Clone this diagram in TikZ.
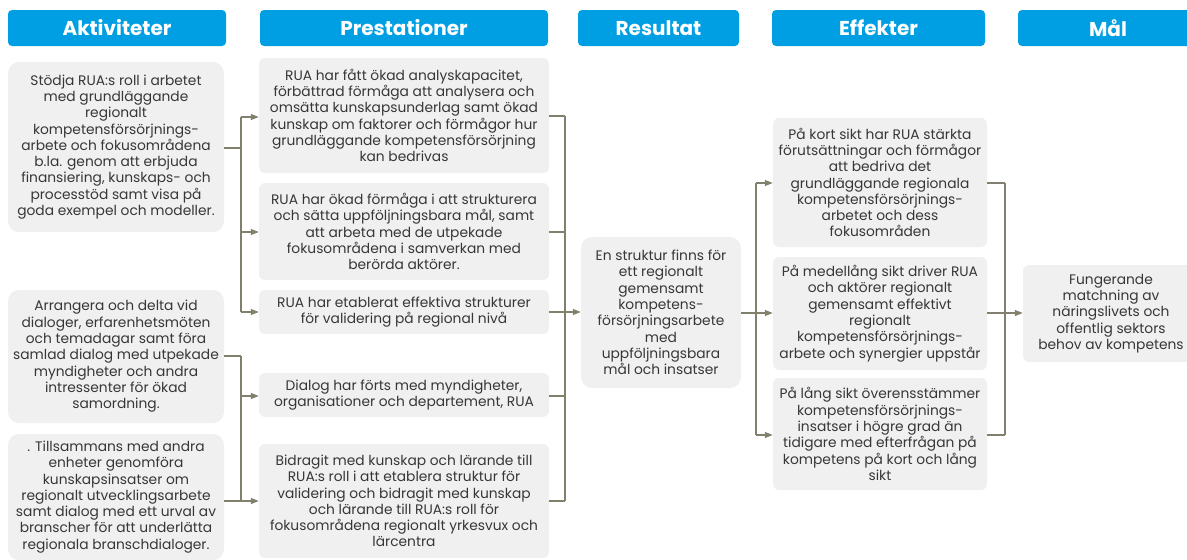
\documentclass[tikz,border=0pt]{standalone}
\usepackage{fontspec}
\setmainfont{Poppins}
\usetikzlibrary{arrows.meta}
\definecolor{hdrblue}{RGB}{0,159,227}
\definecolor{boxgray}{RGB}{240,240,240}
\definecolor{lineol}{RGB}{128,128,108}
\definecolor{txtgray}{RGB}{55,55,55}
\newcommand{\mybox}[7][]{\node[boxst,#1,minimum width={#5-#3},minimum height={#6-#4}] (#2) at ({(#3+#5)/2},{(#4+#6)/2}) {#7};}
\newcommand{\myhdr}[6]{\node[hdrst,minimum width={#4-#2},minimum height={#5-#3}] (#1) at ({(#2+#4)/2},{(#3+#5)/2}) {#6};}
\begin{document}
\begin{tikzpicture}[x=1pt,y=-1pt,
  boxst/.style={fill=boxgray,draw=none,rounded corners=6pt,inner sep=0pt,align=center,text=txtgray,font=\fontsize{13.8}{16.3}\selectfont},
  rc/.style={rounded corners=11pt},
  hdrst/.style={fill=hdrblue,draw=none,rounded corners=4pt,inner sep=0pt,text=white,font=\fontsize{20}{22}\selectfont\bfseries},
  conn/.style={draw=lineol,line width=1.2pt},
  arr/.style={conn,-{Triangle[length=8pt,width=6pt]}}]
\useasboundingbox (0,0) rectangle (1187,560);
% headers
\myhdr{hA}{8}{10}{226}{46}{Aktiviteter}
\myhdr{hP}{260}{10}{548}{46}{Prestationer}
\myhdr{hR}{578}{10}{739}{46}{Resultat}
\myhdr{hE}{772}{10}{985}{46}{Effekter}
\myhdr{hM}{1018}{10}{1198}{46}{Mål}
% activities
\mybox[rc]{A1}{8}{62}{224}{232}{Stödja RUA:s roll i arbetet\\med grundläggande\\regionalt\\kompetensförsörjnings-\\arbete och fokusområdena\\b.la. genom att erbjuda\\finansiering, kunskaps- och\\processtöd samt visa på\\goda exempel och modeller.}
\mybox[rc]{A2}{8}{290}{224}{423}{Arrangera och delta vid\\dialoger, erfarenhetsmöten\\och temadagar samt föra\\samlad dialog med utpekade\\myndigheter och andra\\intressenter för ökad\\samordning.}
\mybox[rc]{A3}{8}{434}{224}{560}{. Tillsammans med andra\\enheter genomföra\\kunskapsinsatser om\\regionalt utvecklingsarbete\\samt dialog med ett urval av\\branscher för att underlätta\\regionala branschdialoger.}
% prestationer
\mybox{P1}{259}{58}{549}{173}{RUA har fått ökad analyskapacitet,\\förbättrad förmåga att analysera och\\omsätta kunskapsunderlag samt ökad\\kunskap om faktorer och förmågor hur\\grundläggande kompetensförsörjning\\kan bedrivas}
\mybox{P2}{259}{183}{549}{280}{RUA har ökad förmåga i att strukturera\\och sätta uppföljningsbara mål, samt\\att arbeta med de utpekade\\fokusområdena i samverkan med\\berörda aktörer.}
\mybox{P3}{259}{290}{549}{334}{RUA har etablerat effektiva strukturer\\för validering på regional nivå}
\mybox{P4}{259}{373}{549}{417}{Dialog har förts med myndigheter,\\organisationer och departement, RUA}
\mybox{P5}{259}{444}{549}{558}{Bidragit med kunskap och lärande till\\RUA:s roll i att etablera struktur för\\validering och bidragit med kunskap\\och lärande till RUA:s roll för\\fokusområdena regionalt yrkesvux och\\lärcentra}
% resultat
\mybox[rc]{R}{581}{237}{741}{388}{En struktur finns för\\ett regionalt\\gemensamt\\kompetens-\\försörjningsarbete\\med\\uppföljningsbara\\mål och insatser}
% effekter
\mybox{E1}{773}{118}{987}{247}{På kort sikt har RUA stärkta\\förutsättningar och förmågor\\att bedriva det\\grundläggande regionala\\kompetensförsörjnings-\\arbetet och dess\\fokusområden}
\mybox{E2}{773}{257}{987}{370}{På medellång sikt driver RUA\\och aktörer regionalt\\gemensamt effektivt\\regionalt\\kompetensförsörjnings-\\arbete och synergier uppstår}
\mybox{E3}{773}{378}{987}{490}{På lång sikt överensstämmer\\kompetensförsörjnings-\\insatser i högre grad än\\tidigare med efterfrågan på\\kompetens på kort och lång\\sikt}
% mål
\mybox{G}{1023}{265}{1199}{362}{Fungerande\\matchning av\\näringslivets och\\offentlig sektors\\behov av kompetens}
% bus coordinates
\coordinate (b1t) at (241,117);
\coordinate (b1b) at (241,312);
\coordinate (b2t) at (241,356);
\coordinate (b2b) at (241,501);
\coordinate (b3t) at (565,116);
\coordinate (b3b) at (565,501);
\coordinate (b4t) at (756,183);
\coordinate (b4b) at (756,435);
\coordinate (b5t) at (1005,183);
\coordinate (b5b) at (1005,435);
% column 1 -> 2
\draw[conn] (b1t) -- (b1b);
\draw[conn] (A1.east |- 0,148) -- (241,148);
\draw[arr] (b1t) -- (P1.west |- b1t);
\draw[arr] (241,232) -- (P2.west |- 0,232);
\draw[arr] (b1b) -- (P3.west |- b1b);
\draw[conn] (b2t) -- (b2b);
\draw[conn] (A2.east |- b2t) -- (b2t);
\draw[conn] (A3.east |- b2b) -- (b2b);
\draw[arr] (241,396) -- (P4.west |- 0,396);
\draw[arr] (b2b) -- (P5.west |- b2b);
% column 2 -> resultat
\draw[conn] (b3t) -- (b3b);
\draw[conn] (P1.east |- b3t) -- (b3t);
\draw[conn] (P2.east |- 0,232) -- (565,232);
\draw[conn] (P3.east |- 0,312) -- (565,312);
\draw[conn] (P4.east |- 0,396) -- (565,396);
\draw[conn] (P5.east |- b3b) -- (b3b);
\draw[arr] (565,312) -- (R.west |- 0,312);
% resultat -> effekter
\draw[conn] (R.east |- 0,313) -- (756,313);
\draw[conn] (b4t) -- (b4b);
\draw[arr] (b4t) -- (E1.west |- b4t);
\draw[arr] (756,313) -- (E2.west |- 0,313);
\draw[arr] (b4b) -- (E3.west |- b4b);
% effekter -> mål
\draw[conn] (b5t) -- (b5b);
\draw[conn] (E1.east |- b5t) -- (b5t);
\draw[conn] (E3.east |- b5b) -- (b5b);
\draw[arr] (E2.east |- 0,313) -- (G.west |- 0,313);
\end{tikzpicture}
\end{document}
